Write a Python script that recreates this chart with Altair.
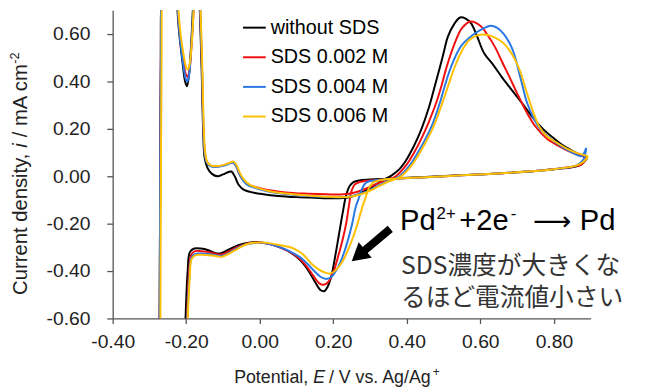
import altair as alt
import pandas as pd

series = ["without SDS", "SDS 0.002 M", "SDS 0.004 M", "SDS 0.006 M"]
colors = ["#000000", "#f01010", "#2a78e4", "#ffc000"]

x_ticks = [-0.4, -0.2, 0.0, 0.2, 0.4, 0.6, 0.8]
y_ticks = [-0.6, -0.4, -0.2, 0.0, 0.2, 0.4, 0.6]

# (E / V, i / mA cm-2), cathodic sweep from 0.9 V then anodic sweep back
black = [
    (0.89, 0.075), (0.875, 0.05), (0.85, 0.038), (0.80, 0.03), (0.75, 0.022), (0.65, 0.012),
    (0.55, 0.005), (0.45, -0.003), (0.37, -0.008), (0.30, -0.014), (0.27, -0.018), (0.255, -0.025),
    (0.245, -0.04), (0.235, -0.08), (0.225, -0.16), (0.215, -0.25), (0.205, -0.34), (0.195, -0.42),
    (0.185, -0.465), (0.175, -0.485), (0.165, -0.48), (0.15, -0.445), (0.135, -0.405), (0.118, -0.368),
    (0.10, -0.34), (0.08, -0.318), (0.055, -0.30), (0.03, -0.287), (0.0, -0.278), (-0.03, -0.28),
    (-0.06, -0.292), (-0.085, -0.31), (-0.105, -0.325), (-0.12, -0.325), (-0.14, -0.312), (-0.16, -0.305),
    (-0.178, -0.305), (-0.19, -0.32), (-0.196, -0.4), (-0.2, -0.52), (-0.203, -0.65), (-0.206, -0.8),
    (-0.24, -0.95), (-0.273, -0.9), (-0.2725, -0.7), (-0.2715, -0.3), (-0.2705, 0.1), (-0.269, 0.5),
    (-0.268, 0.75), (-0.262, 0.95), (-0.235, 0.95), (-0.228, 0.8), (-0.22, 0.62), (-0.21, 0.48),
    (-0.203, 0.40), (-0.198, 0.38), (-0.193, 0.42), (-0.188, 0.52), (-0.182, 0.7), (-0.178, 0.9),
    (-0.168, 0.9), (-0.163, 0.7), (-0.158, 0.45), (-0.154, 0.2), (-0.15, 0.08), (-0.142, 0.035),
    (-0.13, 0.01), (-0.115, 0.0), (-0.1, 0.008), (-0.085, 0.018), (-0.077, 0.02), (-0.068, 0.0),
    (-0.058, -0.035), (-0.045, -0.055), (-0.02, -0.068), (0.01, -0.076), (0.05, -0.083), (0.1, -0.088),
    (0.15, -0.091), (0.2, -0.093), (0.24, -0.09), (0.27, -0.075), (0.30, -0.05), (0.33, -0.02),
    (0.36, 0.005), (0.38, 0.03), (0.395, 0.06), (0.42, 0.13), (0.44, 0.20), (0.46, 0.29),
    (0.476, 0.38), (0.49, 0.46), (0.50, 0.52), (0.512, 0.59), (0.53, 0.645), (0.545, 0.67),
    (0.56, 0.665), (0.575, 0.645), (0.59, 0.595), (0.61, 0.52), (0.635, 0.47), (0.66, 0.415),
    (0.69, 0.355), (0.72, 0.295), (0.745, 0.243), (0.77, 0.2), (0.80, 0.16), (0.83, 0.125),
    (0.86, 0.10), (0.88, 0.085), (0.89, 0.078),
]

red = [
    (0.89, 0.08), (0.875, 0.05), (0.85, 0.04), (0.80, 0.03), (0.75, 0.022), (0.65, 0.012),
    (0.55, 0.004), (0.45, -0.004), (0.37, -0.01), (0.30, -0.018), (0.27, -0.025), (0.258, -0.035),
    (0.25, -0.06), (0.243, -0.12), (0.235, -0.2), (0.225, -0.27), (0.212, -0.345), (0.199, -0.41),
    (0.187, -0.445), (0.174, -0.458), (0.162, -0.452), (0.148, -0.425), (0.13, -0.385), (0.11, -0.35),
    (0.085, -0.322), (0.055, -0.3), (0.025, -0.285), (0.0, -0.279), (-0.03, -0.283), (-0.06, -0.298),
    (-0.085, -0.318), (-0.105, -0.33), (-0.12, -0.328), (-0.14, -0.32), (-0.16, -0.316), (-0.176, -0.316),
    (-0.186, -0.33), (-0.192, -0.4), (-0.196, -0.52), (-0.199, -0.65), (-0.202, -0.8), (-0.24, -0.95),
    (-0.273, -0.9), (-0.2725, -0.7), (-0.2715, -0.3), (-0.2705, 0.1), (-0.269, 0.5), (-0.268, 0.75),
    (-0.262, 0.95), (-0.235, 0.95), (-0.227, 0.8), (-0.219, 0.63), (-0.209, 0.5), (-0.201, 0.43),
    (-0.196, 0.42), (-0.191, 0.45), (-0.186, 0.54), (-0.18, 0.7), (-0.176, 0.9), (-0.167, 0.9),
    (-0.162, 0.7), (-0.157, 0.45), (-0.153, 0.2), (-0.149, 0.095), (-0.143, 0.058), (-0.133, 0.044),
    (-0.118, 0.041), (-0.1, 0.046), (-0.085, 0.054), (-0.074, 0.06), (-0.066, 0.048), (-0.057, 0.015),
    (-0.046, -0.015), (-0.03, -0.035), (0.0, -0.05), (0.03, -0.06), (0.07, -0.068), (0.12, -0.073),
    (0.18, -0.076), (0.22, -0.077), (0.25, -0.072), (0.28, -0.058), (0.31, -0.038), (0.34, -0.018),
    (0.37, 0.0), (0.40, 0.05), (0.42, 0.10), (0.44, 0.16), (0.46, 0.23), (0.48, 0.31),
    (0.494, 0.38), (0.51, 0.47), (0.53, 0.56), (0.55, 0.625), (0.574, 0.653), (0.60, 0.635),
    (0.62, 0.595), (0.64, 0.545), (0.66, 0.48), (0.682, 0.41), (0.70, 0.35), (0.726, 0.27),
    (0.75, 0.21), (0.78, 0.16), (0.81, 0.13), (0.843, 0.104), (0.87, 0.088), (0.89, 0.08),
]

blue = [
    (0.888, 0.12), (0.88, 0.07), (0.86, 0.045), (0.80, 0.03), (0.75, 0.022), (0.65, 0.012),
    (0.55, 0.004), (0.45, -0.004), (0.37, -0.01), (0.31, -0.018), (0.29, -0.026), (0.279, -0.05),
    (0.27, -0.09), (0.261, -0.13), (0.25, -0.21), (0.234, -0.30), (0.22, -0.36), (0.207, -0.40),
    (0.195, -0.425), (0.181, -0.433), (0.166, -0.425), (0.15, -0.403), (0.13, -0.37), (0.11, -0.342),
    (0.08, -0.316), (0.05, -0.297), (0.02, -0.284), (0.0, -0.28), (-0.03, -0.285), (-0.06, -0.302),
    (-0.085, -0.325), (-0.105, -0.336), (-0.12, -0.333), (-0.14, -0.328), (-0.16, -0.326), (-0.176, -0.328),
    (-0.186, -0.345), (-0.191, -0.42), (-0.195, -0.53), (-0.198, -0.66), (-0.201, -0.8), (-0.24, -0.95),
    (-0.273, -0.9), (-0.2725, -0.7), (-0.2715, -0.3), (-0.2705, 0.1), (-0.269, 0.5), (-0.268, 0.75),
    (-0.262, 0.95), (-0.235, 0.95), (-0.227, 0.8), (-0.219, 0.62), (-0.209, 0.48), (-0.201, 0.41),
    (-0.197, 0.40), (-0.192, 0.43), (-0.187, 0.53), (-0.181, 0.7), (-0.177, 0.9), (-0.167, 0.9),
    (-0.162, 0.7), (-0.157, 0.45), (-0.153, 0.2), (-0.149, 0.09), (-0.143, 0.055), (-0.133, 0.042),
    (-0.118, 0.04), (-0.1, 0.044), (-0.085, 0.052), (-0.073, 0.057), (-0.065, 0.045), (-0.056, 0.012),
    (-0.045, -0.018), (-0.03, -0.04), (0.0, -0.055), (0.03, -0.066), (0.07, -0.075), (0.12, -0.082),
    (0.18, -0.087), (0.23, -0.088), (0.26, -0.08), (0.29, -0.065), (0.32, -0.042), (0.35, -0.02),
    (0.38, 0.0), (0.41, 0.05), (0.43, 0.10), (0.45, 0.155), (0.47, 0.22), (0.49, 0.31),
    (0.503, 0.38), (0.52, 0.46), (0.548, 0.55), (0.583, 0.60), (0.61, 0.625), (0.628, 0.635),
    (0.645, 0.627), (0.664, 0.60), (0.68, 0.56), (0.691, 0.52), (0.71, 0.41), (0.727, 0.31),
    (0.745, 0.245), (0.762, 0.20), (0.79, 0.16), (0.816, 0.13), (0.85, 0.1), (0.875, 0.085),
    (0.888, 0.12),
]

yellow = [
    (0.893, 0.085), (0.88, 0.06), (0.86, 0.045), (0.80, 0.03), (0.75, 0.022), (0.65, 0.012),
    (0.55, 0.004), (0.45, -0.004), (0.37, -0.01), (0.33, -0.016), (0.31, -0.025), (0.297, -0.05),
    (0.288, -0.09), (0.279, -0.13), (0.26, -0.23), (0.243, -0.30), (0.225, -0.36), (0.207, -0.396),
    (0.192, -0.41), (0.177, -0.406), (0.16, -0.393), (0.14, -0.368), (0.118, -0.33), (0.09, -0.303),
    (0.05, -0.289), (0.02, -0.281), (0.0, -0.279), (-0.034, -0.286), (-0.06, -0.306), (-0.082, -0.325),
    (-0.103, -0.34), (-0.12, -0.336), (-0.141, -0.333), (-0.16, -0.331), (-0.176, -0.334), (-0.186, -0.352),
    (-0.19, -0.42), (-0.194, -0.53), (-0.197, -0.66), (-0.2, -0.8), (-0.24, -0.95), (-0.271, -0.9),
    (-0.2705, -0.7), (-0.2695, -0.3), (-0.2685, 0.1), (-0.267, 0.5), (-0.266, 0.75), (-0.26, 0.95),
    (-0.235, 0.95), (-0.226, 0.8), (-0.218, 0.64), (-0.208, 0.52), (-0.2, 0.46), (-0.195, 0.45),
    (-0.19, 0.48), (-0.185, 0.56), (-0.18, 0.7), (-0.176, 0.9), (-0.166, 0.9), (-0.161, 0.7),
    (-0.156, 0.45), (-0.152, 0.2), (-0.148, 0.095), (-0.142, 0.058), (-0.132, 0.045), (-0.117, 0.043),
    (-0.1, 0.047), (-0.084, 0.056), (-0.072, 0.062), (-0.064, 0.05), (-0.055, 0.018), (-0.044, -0.012),
    (-0.028, -0.035), (0.0, -0.052), (0.03, -0.064), (0.07, -0.073), (0.12, -0.08), (0.18, -0.086),
    (0.23, -0.088), (0.26, -0.082), (0.29, -0.068), (0.32, -0.045), (0.35, -0.022), (0.38, -0.005),
    (0.41, 0.04), (0.43, 0.085), (0.45, 0.14), (0.47, 0.2), (0.49, 0.28), (0.51, 0.37),
    (0.53, 0.46), (0.55, 0.53), (0.57, 0.575), (0.592, 0.595), (0.62, 0.596), (0.64, 0.585),
    (0.66, 0.565), (0.68, 0.53), (0.695, 0.49), (0.709, 0.44), (0.725, 0.36), (0.744, 0.27),
    (0.76, 0.21), (0.78, 0.17), (0.81, 0.14), (0.834, 0.118), (0.86, 0.1), (0.893, 0.085),
]

arrow_E = [0.355, 0.285]
arrow_I = [-0.222, -0.313]
arrow_tip = (0.2685, -0.3346)

rows = []
for name, pts in zip(series, [black, red, blue, yellow]):
    for k, (e, i) in enumerate(pts):
        rows.append({"series": name, "E": e, "i": i, "k": k})
df = pd.DataFrame(rows)

FONT = "Liberation Sans"
label_expr = "(datum.value < -0.001 ? '-' : '') + format(abs(datum.value), '.2f')"

xscale = alt.Scale(domain=[-0.4, 0.9], nice=False, zero=False)
yscale = alt.Scale(domain=[-0.6, 0.7], nice=False, zero=False)

lines = alt.Chart(df).mark_line(clip=True, strokeWidth=2, interpolate="catmull-rom").encode(
    x=alt.X("E:Q", scale=xscale, axis=alt.Axis(
        values=x_ticks, labelExpr=label_expr, title=None, grid=False, tickSize=5,
        labelPadding=9, labelFontSize=19.5, labelFont=FONT, labelColor="#222222",
        domainColor="#555555", tickColor="#555555", domainWidth=1.3, tickWidth=1.3,
        labelFlush=False)),
    y=alt.Y("i:Q", scale=yscale, axis=alt.Axis(
        values=y_ticks, labelExpr=label_expr, title=None, grid=False, tickSize=6,
        labelPadding=17, labelFontSize=19.5, labelFont=FONT, labelColor="#222222",
        domainColor="#555555", tickColor="#555555", domainWidth=1.3, tickWidth=1.3,
        labelFlush=False)),
    color=alt.Color("series:N", sort=series, scale=alt.Scale(domain=series, range=colors),
                    legend=alt.Legend(orient="none", legendX=131, legendY=5, title=None,
                                      symbolType="stroke", symbolSize=529, symbolStrokeWidth=2,
                                      labelFontSize=20, labelFont=FONT, labelColor="black",
                                      rowPadding=7, labelOffset=4, padding=0)),
    order=alt.Order("k:Q"),
)

arrow_df = pd.DataFrame({"E": arrow_E, "i": arrow_I})
shaft = alt.Chart(arrow_df).mark_line(color="black", strokeWidth=8, strokeCap="butt").encode(
    x=alt.X("E:Q", scale=xscale), y=alt.Y("i:Q", scale=yscale))
head = alt.Chart(pd.DataFrame({"E": [arrow_tip[0]], "i": [arrow_tip[1]]})).mark_point(
    shape="triangle-up", angle=230, size=420, filled=True, color="black", opacity=1).encode(
    x=alt.X("E:Q", scale=xscale), y=alt.Y("i:Q", scale=yscale))

one = pd.DataFrame({"a": [0]})


def txt(s, x, y, **kw):
    return alt.Chart(one).mark_text(text=s, **kw).encode(x=alt.value(x), y=alt.value(y))


texts = [
    # x-axis title
    txt("Potential,", 198, 377, align="right", baseline="alphabetic", font=FONT, fontSize=18, color="#222222"),
    txt("E", 203, 377, align="left", baseline="alphabetic", font=FONT, fontSize=18, fontStyle="italic", color="#222222"),
    txt("/ V vs. Ag/Ag", 219, 377, align="left", baseline="alphabetic", font=FONT, fontSize=18, color="#222222"),
    txt("+", 324, 370, align="left", baseline="alphabetic", font=FONT, fontSize=12, color="#222222"),
    # y-axis title
    txt("Current density,", -87, 145, align="right", baseline="alphabetic", angle=270, font=FONT, fontSize=20.5, color="#222222"),
    txt("i", -87, 139, align="left", baseline="alphabetic", angle=270, font=FONT, fontSize=20.5, fontStyle="italic", color="#222222"),
    txt("/ mA cm", -87, 128.5, align="left", baseline="alphabetic", angle=270, font=FONT, fontSize=20.5, color="#222222"),
    txt("-2", -94.5, 54, align="left", baseline="alphabetic", angle=270, font=FONT, fontSize=13, color="#222222"),
    # reaction
    txt("Pd", 291, 222, align="left", baseline="alphabetic", font=FONT, fontSize=29.5, color="black"),
    txt("2+", 328, 211, align="left", baseline="alphabetic", font=FONT, fontSize=17, color="black"),
    txt("+2e", 351, 222, align="left", baseline="alphabetic", font=FONT, fontSize=29.5, color="black"),
    txt("-", 403, 211, align="left", baseline="alphabetic", font=FONT, fontSize=17, color="black"),
    txt("\u27f6", 445, 222, align="center", baseline="alphabetic", font="DejaVu Sans", fontSize=27, color="black"),
    txt("Pd", 473, 222, align="left", baseline="alphabetic", font=FONT, fontSize=29.5, color="black"),
    # Japanese note
    txt("SDS濃度が大きくな", 292, 259, align="left", baseline="middle", font="Noto Sans CJK JP", fontSize=25, color="#333333"),
    txt("るほど電流値小さい", 292, 291, align="left", baseline="middle", font="Noto Sans CJK JP", fontSize=25, color="#333333"),
]

chart = alt.layer(lines, shaft, head, *texts).properties(
    width=484, height=312,
    autosize="none",
    padding={"left": 106, "top": 0, "right": 51, "bottom": 67},
).configure_view(stroke=None)

chart.save("out.html", embed_options={"renderer": "svg", "actions": False})
